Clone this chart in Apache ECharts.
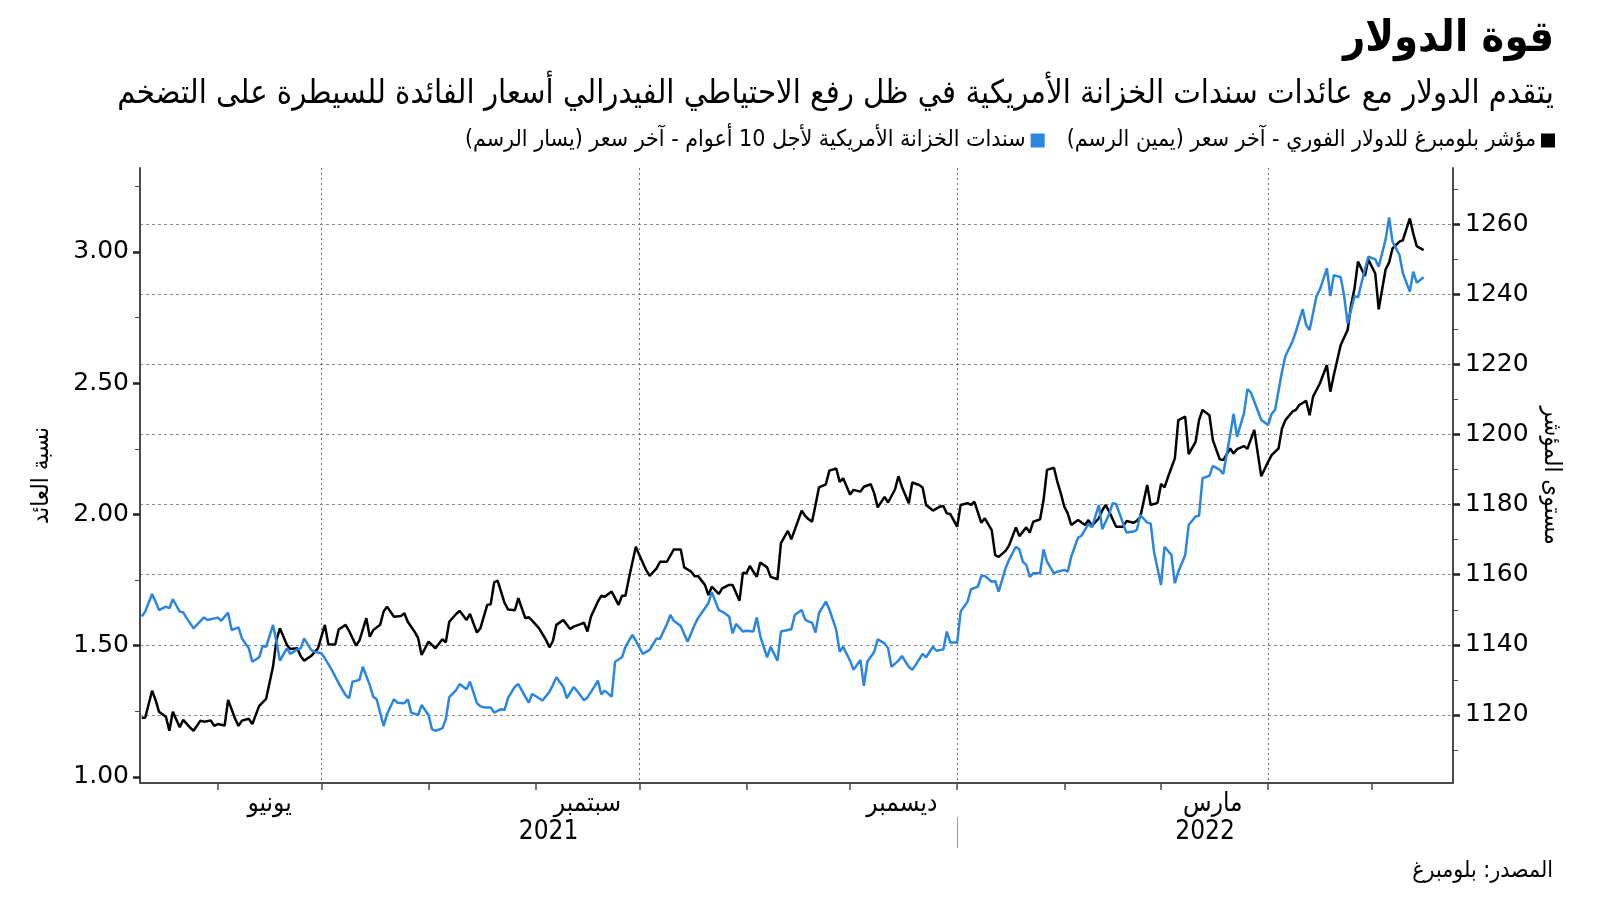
<!DOCTYPE html>
<html lang="ar">
<head>
<meta charset="utf-8">
<title>قوة الدولار</title>
<script src="https://cdn.jsdelivr.net/npm/echarts@6.0.0/dist/echarts.min.js"></script>
<style>
  html, body { margin: 0; padding: 0; background: #ffffff; }
  #chart { width: 1600px; height: 901px; }
</style>
</head>
<body>
<div id="chart"></div>
<script>
// ---------- DATA ----------
const titleText = 'قوة الدولار';
const subtitleText = 'يتقدم الدولار مع عائدات سندات الخزانة الأمريكية في ظل رفع الاحتياطي الفيدرالي أسعار الفائدة للسيطرة على التضخم';
const dollarName = 'مؤشر بلومبرغ للدولار الفوري - آخر سعر (يمين الرسم)\u200F';
const yieldName = 'سندات الخزانة الأمريكية لأجل 10 أعوام - آخر سعر (يسار الرسم)\u200F';
const leftAxisName = 'نسبة العائد';
const rightAxisName = 'مستوى المؤشر';
const sourceText = 'المصدر: بلومبرغ';

const monthLabels = ['يونيو', 'سبتمبر', 'ديسمبر', 'مارس'];
const monthLabelDates = ['2021-06-16', '2021-09-16', '2021-12-16', '2022-03-16'];
const monthTickDates = ['2021-06-01','2021-07-01','2021-08-01','2021-09-01','2021-10-01','2021-11-01','2021-12-01','2022-01-01','2022-02-01','2022-03-01','2022-04-01','2022-05-01'];
const quarterGridDates = ['2021-07-01', '2021-10-01', '2022-01-01', '2022-04-01'];
const yearBreakDate = '2022-01-01';
const yearLabels = ['2021', '2022'];

const leftTicks = [1.00, 1.50, 2.00, 2.50, 3.00];
const leftMinorTicks = [1.25, 1.75, 2.25, 2.75, 3.25];
const rightTicks = [1120, 1140, 1160, 1180, 1200, 1220, 1240, 1260];
const rightMinorTicks = [1110, 1130, 1150, 1170, 1190, 1210, 1230, 1250, 1270];

// Bloomberg dollar spot index (right axis)
const dollarData = [
['2021-05-10',1119.2],['2021-05-11',1119.2],['2021-05-13',1126.9],['2021-05-14',1124.3],['2021-05-15',1120.9],['2021-05-17',1119.5],['2021-05-18',1115.5],['2021-05-19',1120.9],['2021-05-21',1116.5],['2021-05-22',1118.6],['2021-05-24',1116.4],['2021-05-25',1115.5],['2021-05-27',1118.4],['2021-05-28',1118.1],['2021-05-30',1118.4],['2021-05-31',1116.9],
['2021-06-01',1117.4],['2021-06-03',1117.0],['2021-06-04',1124.3],['2021-06-06',1119.0],['2021-06-07',1116.9],['2021-06-08',1118.4],['2021-06-10',1118.9],['2021-06-11',1117.4],['2021-06-13',1122.6],['2021-06-15',1124.6],['2021-06-17',1133.8],['2021-06-18',1141.4],['2021-06-19',1144.7],['2021-06-21',1140.0],['2021-06-22',1138.8],['2021-06-24',1139.0],['2021-06-25',1136.8],['2021-06-26',1135.5],['2021-06-28',1136.8],['2021-06-30',1139.0],
['2021-07-02',1145.7],['2021-07-03',1140.2],['2021-07-05',1140.1],['2021-07-06',1144.4],['2021-07-08',1145.7],['2021-07-09',1144.0],['2021-07-11',1139.8],['2021-07-12',1141.2],['2021-07-14',1147.6],['2021-07-15',1142.3],['2021-07-16',1144.2],['2021-07-18',1145.7],['2021-07-19',1149.5],['2021-07-20',1150.9],['2021-07-22',1148.0],['2021-07-24',1148.2],['2021-07-25',1149.0],['2021-07-26',1146.6],['2021-07-28',1143.7],['2021-07-29',1141.9],['2021-07-30',1137.1],
['2021-08-01',1140.9],['2021-08-02',1140.0],['2021-08-03',1139.0],['2021-08-05',1141.6],['2021-08-06',1140.7],['2021-08-07',1146.6],['2021-08-09',1148.8],['2021-08-10',1149.7],['2021-08-12',1147.1],['2021-08-13',1148.8],['2021-08-15',1143.5],['2021-08-16',1144.7],['2021-08-18',1151.4],['2021-08-19',1151.6],['2021-08-20',1157.8],['2021-08-21',1158.3],['2021-08-23',1152.0],['2021-08-24',1150.1],['2021-08-26',1149.9],['2021-08-27',1153.3],['2021-08-29',1147.6],['2021-08-30',1147.9],['2021-08-31',1146.9],
['2021-09-02',1144.7],['2021-09-04',1141.4],['2021-09-05',1139.3],['2021-09-06',1141.1],['2021-09-07',1145.7],['2021-09-09',1147.1],['2021-09-11',1144.5],['2021-09-12',1145.2],['2021-09-14',1145.9],['2021-09-15',1146.3],['2021-09-16',1143.8],['2021-09-17',1148.0],['2021-09-19',1152.3],['2021-09-20',1154.0],['2021-09-21',1153.7],['2021-09-23',1155.2],['2021-09-25',1151.4],['2021-09-26',1154.0],['2021-09-27',1154.0],['2021-09-28',1159.0],['2021-09-30',1168.0],
['2021-10-01',1165.6],['2021-10-03',1161.3],['2021-10-04',1159.7],['2021-10-06',1161.8],['2021-10-07',1163.7],['2021-10-09',1163.7],['2021-10-11',1167.2],['2021-10-13',1167.2],['2021-10-14',1162.1],['2021-10-16',1160.9],['2021-10-17',1159.6],['2021-10-18',1159.6],['2021-10-20',1157.1],['2021-10-21',1154.2],['2021-10-22',1156.6],['2021-10-24',1154.5],['2021-10-25',1156.1],['2021-10-27',1157.1],['2021-10-28',1157.1],['2021-10-30',1152.6],['2021-10-31',1160.6],
['2021-11-01',1160.4],['2021-11-02',1162.5],['2021-11-04',1159.4],['2021-11-05',1163.5],['2021-11-07',1162.1],['2021-11-08',1159.4],['2021-11-10',1158.7],['2021-11-11',1169.0],['2021-11-13',1172.5],['2021-11-14',1170.1],['2021-11-17',1178.3],['2021-11-18',1176.8],['2021-11-19',1175.8],['2021-11-20',1175.1],['2021-11-21',1179.9],['2021-11-22',1184.9],['2021-11-24',1185.8],['2021-11-25',1189.7],['2021-11-27',1190.3],['2021-11-28',1186.5],['2021-11-29',1187.5],
['2021-12-01',1182.9],['2021-12-02',1184.2],['2021-12-04',1183.7],['2021-12-05',1185.1],['2021-12-07',1185.8],['2021-12-08',1183.2],['2021-12-09',1179.2],['2021-12-11',1182.2],['2021-12-12',1180.6],['2021-12-14',1184.3],['2021-12-15',1188.1],['2021-12-16',1185.1],['2021-12-18',1180.4],['2021-12-19',1186.3],['2021-12-21',1185.6],['2021-12-22',1184.9],['2021-12-23',1179.9],['2021-12-25',1178.3],['2021-12-27',1179.4],['2021-12-28',1179.6],['2021-12-29',1177.5],['2021-12-30',1177.3],
['2022-01-01',1173.7],['2022-01-02',1179.9],['2022-01-04',1180.4],['2022-01-05',1179.9],['2022-01-06',1180.8],['2022-01-08',1174.8],['2022-01-09',1176.1],['2022-01-11',1172.7],['2022-01-12',1165.6],['2022-01-13',1165.1],['2022-01-15',1166.8],['2022-01-16',1168.3],['2022-01-18',1173.5],['2022-01-19',1171.0],['2022-01-21',1173.5],['2022-01-22',1172.0],['2022-01-23',1175.1],['2022-01-25',1175.8],['2022-01-26',1181.3],['2022-01-27',1189.9],['2022-01-29',1190.5],['2022-01-30',1186.5],['2022-01-31',1183.2],
['2022-02-01',1179.4],['2022-02-02',1177.5],['2022-02-03',1174.2],['2022-02-05',1175.6],['2022-02-07',1174.2],['2022-02-08',1175.6],['2022-02-09',1173.9],['2022-02-11',1176.1],['2022-02-12',1178.4],['2022-02-13',1179.9],['2022-02-14',1178.0],['2022-02-16',1173.7],['2022-02-18',1173.7],['2022-02-19',1175.3],['2022-02-21',1174.8],['2022-02-22',1175.4],['2022-02-23',1176.5],['2022-02-25',1185.6],['2022-02-26',1179.9],['2022-02-28',1180.5],
['2022-03-01',1185.9],['2022-03-02',1184.9],['2022-03-03',1187.8],['2022-03-05',1193.2],['2022-03-06',1204.1],['2022-03-08',1205.1],['2022-03-09',1194.4],['2022-03-11',1197.9],['2022-03-12',1204.1],['2022-03-13',1207.0],['2022-03-15',1205.5],['2022-03-16',1198.4],['2022-03-18',1192.9],['2022-03-19',1192.7],['2022-03-21',1196.0],['2022-03-22',1194.6],['2022-03-23',1195.8],['2022-03-25',1196.7],['2022-03-26',1195.9],['2022-03-28',1201.3],['2022-03-29',1194.6],['2022-03-30',1188.1],
['2022-04-01',1192.2],['2022-04-02',1194.1],['2022-04-04',1196.0],['2022-04-05',1201.7],['2022-04-06',1204.1],['2022-04-08',1206.5],['2022-04-09',1207.0],['2022-04-10',1208.4],['2022-04-12',1209.6],['2022-04-13',1205.5],['2022-04-14',1210.8],['2022-04-16',1214.6],['2022-04-18',1219.8],['2022-04-19',1212.2],['2022-04-20',1216.9],['2022-04-22',1225.5],['2022-04-24',1229.8],['2022-04-25',1236.9],['2022-04-26',1241.7],['2022-04-27',1249.3],['2022-04-29',1245.2],['2022-04-30',1249.9],
['2022-05-02',1245.9],['2022-05-03',1235.7],['2022-05-05',1247.1],['2022-05-06',1249.0],['2022-05-07',1253.1],['2022-05-09',1255.0],['2022-05-10',1255.4],['2022-05-12',1261.6],['2022-05-13',1257.3],['2022-05-14',1253.7],['2022-05-16',1252.6]
];

// US 10-year Treasury yield (left axis)
const yieldData = [
['2021-05-10',1.611],['2021-05-11',1.630],['2021-05-13',1.697],['2021-05-14',1.668],['2021-05-15',1.636],['2021-05-17',1.649],['2021-05-18',1.643],['2021-05-19',1.677],['2021-05-21',1.630],['2021-05-22',1.627],['2021-05-23',1.605],['2021-05-25',1.566],['2021-05-28',1.608],['2021-05-29',1.598],
['2021-06-01',1.607],['2021-06-02',1.595],['2021-06-04',1.626],['2021-06-05',1.560],['2021-06-07',1.570],['2021-06-08',1.528],['2021-06-10',1.490],['2021-06-11',1.439],['2021-06-13',1.456],['2021-06-14',1.499],['2021-06-15',1.496],['2021-06-17',1.579],['2021-06-18',1.515],['2021-06-19',1.443],['2021-06-21',1.490],['2021-06-22',1.469],['2021-06-24',1.486],['2021-06-25',1.490],['2021-06-26',1.528],['2021-06-28',1.484],['2021-06-29',1.477],
['2021-07-01',1.471],['2021-07-02',1.452],['2021-07-04',1.408],['2021-07-06',1.357],['2021-07-08',1.312],['2021-07-09',1.300],['2021-07-10',1.363],['2021-07-12',1.370],['2021-07-13',1.420],['2021-07-15',1.350],['2021-07-16',1.306],['2021-07-17',1.296],['2021-07-19',1.194],['2021-07-20',1.240],['2021-07-22',1.296],['2021-07-23',1.283],['2021-07-25',1.281],['2021-07-26',1.296],['2021-07-27',1.245],['2021-07-29',1.236],['2021-07-30',1.274],
['2021-08-01',1.236],['2021-08-02',1.182],['2021-08-03',1.176],['2021-08-05',1.185],['2021-08-06',1.220],['2021-08-07',1.304],['2021-08-09',1.331],['2021-08-10',1.354],['2021-08-12',1.334],['2021-08-13',1.363],['2021-08-15',1.281],['2021-08-16',1.270],['2021-08-17',1.265],['2021-08-19',1.265],['2021-08-20',1.245],['2021-08-22',1.258],['2021-08-23',1.255],['2021-08-24',1.300],['2021-08-26',1.344],['2021-08-27',1.354],['2021-08-29',1.306],['2021-08-30',1.283],['2021-08-31',1.316],
['2021-09-02',1.300],['2021-09-03',1.291],['2021-09-05',1.325],['2021-09-06',1.350],['2021-09-07',1.380],['2021-09-09',1.344],['2021-09-10',1.300],['2021-09-12',1.342],['2021-09-13',1.328],['2021-09-15',1.292],['2021-09-16',1.303],['2021-09-18',1.344],['2021-09-19',1.367],['2021-09-20',1.315],['2021-09-21',1.329],['2021-09-23',1.306],['2021-09-24',1.439],['2021-09-26',1.456],['2021-09-27',1.496],['2021-09-29',1.541],['2021-09-30',1.519],
['2021-10-02',1.469],['2021-10-04',1.484],['2021-10-06',1.528],['2021-10-07',1.526],['2021-10-09',1.583],['2021-10-10',1.617],['2021-10-11',1.595],['2021-10-13',1.575],['2021-10-14',1.545],['2021-10-15',1.515],['2021-10-17',1.579],['2021-10-18',1.605],['2021-10-20',1.643],['2021-10-21',1.662],['2021-10-22',1.704],['2021-10-24',1.636],['2021-10-25',1.630],['2021-10-27',1.611],['2021-10-28',1.547],['2021-10-29',1.583],['2021-10-31',1.554],
['2021-11-01',1.557],['2021-11-03',1.554],['2021-11-04',1.608],['2021-11-05',1.537],['2021-11-07',1.456],['2021-11-08',1.496],['2021-11-10',1.443],['2021-11-11',1.554],['2021-11-13',1.560],['2021-11-14',1.563],['2021-11-15',1.617],['2021-11-17',1.636],['2021-11-18',1.600],['2021-11-19',1.592],['2021-11-20',1.588],['2021-11-21',1.550],['2021-11-22',1.624],['2021-11-24',1.668],['2021-11-25',1.639],['2021-11-27',1.560],['2021-11-28',1.477],['2021-11-29',1.496],
['2021-12-01',1.443],['2021-12-02',1.408],['2021-12-04',1.446],['2021-12-05',1.347],['2021-12-06',1.439],['2021-12-08',1.477],['2021-12-09',1.524],['2021-12-11',1.509],['2021-12-12',1.490],['2021-12-13',1.420],['2021-12-15',1.443],['2021-12-16',1.461],['2021-12-18',1.420],['2021-12-19',1.408],['2021-12-20',1.427],['2021-12-22',1.469],['2021-12-23',1.456],['2021-12-25',1.496],['2021-12-26',1.481],['2021-12-28',1.486],['2021-12-29',1.554],['2021-12-30',1.512],
['2022-01-01',1.512],['2022-01-02',1.630],['2022-01-04',1.668],['2022-01-05',1.715],['2022-01-07',1.725],['2022-01-08',1.766],['2022-01-09',1.766],['2022-01-11',1.744],['2022-01-12',1.747],['2022-01-13',1.706],['2022-01-15',1.795],['2022-01-16',1.827],['2022-01-18',1.877],['2022-01-19',1.867],['2022-01-20',1.820],['2022-01-21',1.808],['2022-01-22',1.762],['2022-01-23',1.776],['2022-01-25',1.776],['2022-01-26',1.867],['2022-01-27',1.820],['2022-01-29',1.776],['2022-01-30',1.782],
['2022-02-01',1.789],['2022-02-02',1.782],['2022-02-03',1.839],['2022-02-05',1.912],['2022-02-06',1.919],['2022-02-08',1.964],['2022-02-09',1.951],['2022-02-11',2.036],['2022-02-12',1.944],['2022-02-14',2.002],['2022-02-15',2.043],['2022-02-16',2.040],['2022-02-18',1.966],['2022-02-19',1.931],['2022-02-21',1.935],['2022-02-22',1.941],['2022-02-23',1.998],['2022-02-25',1.969],['2022-02-26',1.966],['2022-02-27',1.855],
['2022-03-01',1.731],['2022-03-02',1.877],['2022-03-04',1.846],['2022-03-05',1.738],['2022-03-06',1.782],['2022-03-08',1.846],['2022-03-09',1.960],['2022-03-11',1.992],['2022-03-12',1.995],['2022-03-13',2.138],['2022-03-15',2.147],['2022-03-16',2.185],['2022-03-18',2.170],['2022-03-19',2.154],['2022-03-21',2.303],['2022-03-22',2.383],['2022-03-23',2.296],['2022-03-25',2.385],['2022-03-26',2.477],['2022-03-27',2.465],['2022-03-29',2.395],['2022-03-30',2.360],
['2022-04-01',2.341],['2022-04-02',2.383],['2022-04-03',2.398],['2022-04-05',2.544],['2022-04-06',2.604],['2022-04-08',2.658],['2022-04-09',2.696],['2022-04-11',2.782],['2022-04-12',2.722],['2022-04-13',2.703],['2022-04-15',2.832],['2022-04-16',2.858],['2022-04-18',2.938],['2022-04-19',2.832],['2022-04-20',2.912],['2022-04-22',2.904],['2022-04-23',2.832],['2022-04-24',2.728],['2022-04-26',2.832],['2022-04-27',2.827],['2022-04-29',2.934],['2022-04-30',2.982],
['2022-05-02',2.972],['2022-05-03',2.944],['2022-05-05',3.048],['2022-05-06',3.132],['2022-05-07',3.039],['2022-05-09',2.989],['2022-05-10',2.919],['2022-05-12',2.849],['2022-05-13',2.925],['2022-05-14',2.883],['2022-05-16',2.904]
];

// ---------- HELPERS ----------
function ts(s) {
  const p = s.split('-').map(Number);
  return Date.UTC(p[0], p[1] - 1, p[2]);
}
const DAY = 86400000;
const xMin = ts('2021-05-09') + DAY / 2;
const xMax = ts('2022-05-24') + DAY / 2;
const labelTs = monthLabelDates.map(ts);
const yearBreakTs = ts(yearBreakDate);
const yearLabelTs = [(xMin + yearBreakTs) / 2, (yearBreakTs + xMax) / 2];

const AR_FONT = '"DejaVu Sans Condensed", "DejaVu Sans", sans-serif';
const NUM_FONT = '"DejaVu Sans", sans-serif';
const AXIS_COLOR = '#4a4a4a';
const BLUE = '#2b86df';

const chart = echarts.init(document.getElementById('chart'), null, { renderer: 'canvas' });

const option = {
  animation: false,
  backgroundColor: '#ffffff',
  title: [
    { text: titleText, right: 41, top: 13,
      textStyle: { fontFamily: AR_FONT, fontWeight: 'bold', fontSize: 43, color: '#000' } },
    { text: subtitleText, right: 41, top: 73,
      textStyle: { fontFamily: AR_FONT, fontWeight: 'normal', fontSize: 32.5, color: '#000' } }
  ],
  legend: {
    data: [yieldName, dollarName],
    right: 40, top: 124,
    align: 'right',
    icon: 'rect',
    itemWidth: 14, itemHeight: 14, itemGap: 22,
    textStyle: { fontFamily: AR_FONT, fontSize: 23, color: '#000' }
  },
  graphic: [
    { type: 'text', right: 47, top: 860,
      style: { text: sourceText, fontFamily: AR_FONT, fontSize: 23, fill: '#000' } }
  ],
  grid: { left: 140, right: 147, top: 168, bottom: 118, containLabel: false },
  xAxis: [
    {
      type: 'value', min: xMin, max: xMax, position: 'bottom',
      axisLine: { onZero: false, lineStyle: { color: AXIS_COLOR, width: 2 } },
      axisTick: { show: true, customValues: monthTickDates.map(ts), length: 7, lineStyle: { color: AXIS_COLOR, width: 1.5 } },
      axisLabel: {
        customValues: labelTs, margin: 8, fontSize: 26, color: '#000', fontFamily: AR_FONT,
        formatter: function (v) {
          let best = 0, bd = Infinity;
          labelTs.forEach(function (t, i) { const d = Math.abs(t - v); if (d < bd) { bd = d; best = i; } });
          return monthLabels[best];
        }
      },
      splitLine: { show: false }
    },
    {
      type: 'value', min: xMin, max: xMax, position: 'bottom',
      axisLine: { show: false, onZero: false },
      axisTick: { show: false, customValues: quarterGridDates.map(ts) },
      axisLabel: { show: false, customValues: quarterGridDates.map(ts) },
      splitLine: { show: true, lineStyle: { type: [2, 3], color: '#6f6f6f', width: 1 } }
    },
    {
      type: 'value', min: xMin, max: xMax, position: 'bottom', offset: 34,
      axisLine: { show: false, onZero: false },
      axisTick: { show: true, customValues: [yearBreakTs], length: 31, lineStyle: { color: '#9a9a9a', width: 1 } },
      axisLabel: {
        customValues: yearLabelTs, margin: 2, fontSize: 26, color: '#000', fontFamily: AR_FONT,
        formatter: function (v) { return v < yearBreakTs ? yearLabels[0] : yearLabels[1]; }
      },
      splitLine: { show: false }
    }
  ],
  yAxis: [
    {
      type: 'value', position: 'left', min: 0.977, max: 3.32,
      name: leftAxisName, nameLocation: 'middle', nameGap: 86, nameRotate: 90,
      nameTextStyle: { fontFamily: AR_FONT, fontSize: 24, color: '#000' },
      axisLine: { show: true, lineStyle: { color: AXIS_COLOR, width: 2 } },
      axisTick: { show: true, customValues: leftTicks, length: 7, lineStyle: { color: '#222', width: 2.5 } },
      axisLabel: { customValues: leftTicks, margin: 11, fontSize: 25, color: '#000', fontFamily: NUM_FONT,
        formatter: function (v) { return Number(v).toFixed(2); } },
      splitLine: { show: false }
    },
    {
      type: 'value', position: 'right', min: 1100.6, max: 1276,
      name: rightAxisName, nameLocation: 'middle', nameGap: 86, nameRotate: -90,
      nameTextStyle: { fontFamily: AR_FONT, fontSize: 24, color: '#000' },
      axisLine: { show: true, lineStyle: { color: AXIS_COLOR, width: 2 } },
      axisTick: { show: true, customValues: rightTicks, length: 7, lineStyle: { color: '#222', width: 2.5 } },
      axisLabel: { customValues: rightTicks, margin: 12, fontSize: 25, color: '#000', fontFamily: NUM_FONT,
        formatter: function (v) { return String(Math.round(v)); } },
      splitLine: { show: true, lineStyle: { type: [3, 3], color: '#8a8a8a', width: 1 } }
    },
    {
      type: 'value', position: 'left', min: 0.977, max: 3.32,
      axisLine: { show: false },
      axisTick: { show: true, customValues: leftMinorTicks, length: 5, lineStyle: { color: AXIS_COLOR, width: 1 } },
      axisLabel: { show: false, customValues: leftMinorTicks },
      splitLine: { show: false }
    },
    {
      type: 'value', position: 'right', min: 1100.6, max: 1276,
      axisLine: { show: false },
      axisTick: { show: true, customValues: rightMinorTicks, length: 5, lineStyle: { color: AXIS_COLOR, width: 1 } },
      axisLabel: { show: false, customValues: rightMinorTicks },
      splitLine: { show: false }
    }
  ],
  series: [
    {
      name: dollarName, type: 'line', xAxisIndex: 0, yAxisIndex: 1,
      data: dollarData.map(function (d) { return [ts(d[0]), d[1]]; }),
      showSymbol: false, symbol: 'none',
      lineStyle: { color: '#000000', width: 2.5 }, itemStyle: { color: '#000000' },
      z: 3
    },
    {
      name: yieldName, type: 'line', xAxisIndex: 0, yAxisIndex: 0,
      data: yieldData.map(function (d) { return [ts(d[0]), d[1]]; }),
      showSymbol: false, symbol: 'none',
      lineStyle: { color: BLUE, width: 2.5 }, itemStyle: { color: BLUE },
      z: 4
    }
  ]
};
chart.setOption(option);
</script>
</body>
</html>
